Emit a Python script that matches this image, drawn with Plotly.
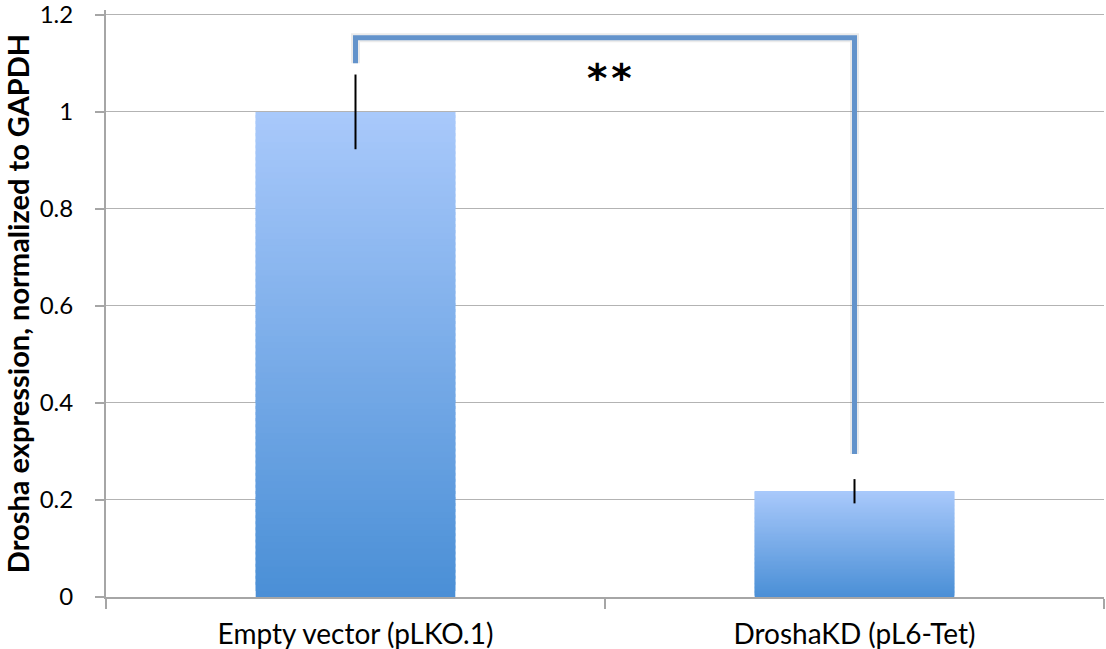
import numpy as np
import plotly.graph_objects as go

# Data
categories = ["Empty vector (pLKO.1)", "DroshaKD (pL6-Tet)"]
expression = [1.0, 0.218]
error = [0.077, 0.025]
significance = "**"
bracket_top = 1.153
bracket_left_end = 1.10
bracket_right_end = 0.295
y_ticks = [0, 0.2, 0.4, 0.6, 0.8, 1.0, 1.2]
y_tick_text = ["0", "0.2", "0.4", "0.6", "0.8", "1", "1.2"]

# Gradient colours for bar fill (bottom -> top)
bottom_rgb = np.array([74, 143, 214])
top_rgb = np.array([169, 201, 251])
n_steps = 80

seg_x, seg_h, seg_base, seg_col = [], [], [], []
for cat, val in zip(categories, expression):
    step = val / n_steps
    for k in range(n_steps):
        t = (k + 0.5) / n_steps
        rgb = bottom_rgb + (top_rgb - bottom_rgb) * t
        c = "rgb({:.0f},{:.0f},{:.0f})".format(*rgb)
        seg_x.append(cat)
        # each slice overlaps the next one so no seams show
        seg_h.append(min(step * 2.5, val - step * k))
        seg_base.append(step * k)
        seg_col.append(c)

fig = go.Figure()

fig.add_trace(go.Bar(
    x=seg_x, y=seg_h, base=seg_base, width=0.4,
    marker=dict(color=seg_col, line=dict(width=0)),
    hoverinfo="skip", showlegend=False,
))

# Error bars (no caps)
fig.add_trace(go.Scatter(
    x=categories, y=expression, mode="markers",
    marker=dict(size=1, opacity=0),
    error_y=dict(type="data", array=error, visible=True,
                 color="black", thickness=2, width=0),
    showlegend=False, hoverinfo="skip",
))

# Significance bracket with soft shadow
bx = [categories[0], categories[0], categories[1], categories[1]]
by = [bracket_left_end, bracket_top, bracket_top, bracket_right_end]
fig.add_trace(go.Scatter(
    x=bx, y=by, mode="lines",
    line=dict(color="rgba(0,0,0,0.08)", width=9),
    showlegend=False, hoverinfo="skip",
))
fig.add_trace(go.Scatter(
    x=bx, y=by, mode="lines",
    line=dict(color="#6393cb", width=5),
    showlegend=False, hoverinfo="skip",
))

fig.add_annotation(
    x=0.51, y=1.068, xref="x", yref="y", text="<b>*&#8202;*</b>",
    showarrow=False, font=dict(family="DejaVu Sans", size=39, color="black"),
)

fig.update_layout(
    width=1106, height=649,
    margin=dict(l=106, r=2, t=10, b=52),
    plot_bgcolor="white", paper_bgcolor="white",
    barmode="overlay",
    font=dict(family="Lato", color="black"),
)

fig.update_xaxes(
    type="category", categoryorder="array", categoryarray=categories,
    showline=True, linecolor="#a6a6a6", linewidth=2,
    ticks="outside", tickson="boundaries", ticklen=10, tickcolor="#a6a6a6",
    tickwidth=1.5, showgrid=False, tickfont=dict(size=28, family="Lato"),
    ticklabelstandoff=11, range=[-0.5, 1.5], automargin=False,
    ticklabeloverflow="allow",
)
fig.update_yaxes(
    range=[0, 1.21], tickvals=y_ticks, ticktext=y_tick_text,
    showgrid=True, gridcolor="#b3b3b3", gridwidth=1.2,
    showline=True, linecolor="#a6a6a6", linewidth=2,
    ticks="outside", ticklen=9, tickcolor="#a6a6a6", tickwidth=1.5,
    tickfont=dict(size=24, family="Lato"), zeroline=False, ticklabelstandoff=17,
    automargin=False, ticklabeloverflow="allow",
    title=dict(text="<b>Drosha expression, normalized to GAPDH</b>",
               font=dict(size=29, family="Lato"), standoff=6),
)

fig.write_html("out.html")
